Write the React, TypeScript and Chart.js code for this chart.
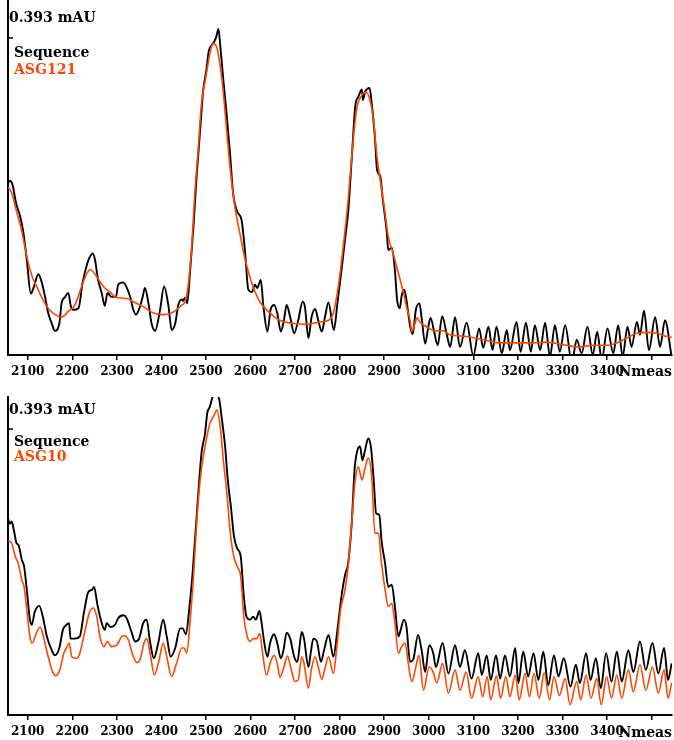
import React, { useEffect, useRef } from 'react';
import { Chart, registerables } from 'chart.js';

Chart.register(...registerables);

// ---- axes (Nmeas on x, signal in µAU on y; tick 393 µAU = 0.393 mAU) ----
const X_MIN = 2055.8;
const X_MAX = 3545.8;
const X_TICKS = [2100, 2200, 2300, 2400, 2500, 2600, 2700, 2800, 2900, 3000, 3100, 3200, 3300, 3400, 3500];
const X_TITLE = 'Nmeas';
const Y_TICK = 393;
const TOP_Y_MAX = 440;
const BOTTOM_Y_MAX = 437;

const SEQ_NAME = 'Sequence';
const TOP_NAME = 'ASG121';
const BOTTOM_NAME = 'ASG10';

const BLACK = '#000000';
const ORANGE = '#ff4500';
const FONT = "'DejaVu Serif', serif";

// ---- top panel ----
const TOP_SEQUENCE: [number, number][] = [
  [2056,213],[2060,216],[2066,211],[2074,188],[2083,172],[2090,153],[2098,118],[2107,76],[2113,83],[2124,100],
  [2131,91],[2139,72],[2146,52],[2154,39],[2161,30],[2171,39],[2176,64],[2184,72],[2191,77],[2197,60],
  [2202,56],[2214,58],[2223,89],[2234,114],[2240,122],[2246,126],[2251,118],[2258,93],[2266,77],[2273,61],
  [2279,77],[2288,72],[2298,72],[2303,87],[2314,90],[2321,85],[2330,72],[2337,56],[2343,50],[2350,57],
  [2358,72],[2363,83],[2371,64],[2378,39],[2386,30],[2397,56],[2406,85],[2416,60],[2423,31],[2431,39],
  [2438,62],[2446,69],[2449,67],[2453,71],[2458,64],[2464,101],[2472,159],[2479,221],[2487,279],[2494,329],
  [2501,353],[2506,376],[2513,384],[2518,388],[2523,394],[2528,404],[2532,384],[2539,341],[2547,295],[2554,250],
  [2561,200],[2570,178],[2580,167],[2588,126],[2595,81],[2603,78],[2610,87],[2615,83],[2623,93],[2629,60],
  [2638,29],[2645,56],[2653,62],[2660,52],[2668,29],[2675,43],[2681,62],[2689,47],[2698,27],[2707,43],
  [2717,66],[2722,60],[2730,21],[2737,47],[2745,57],[2752,43],[2760,29],[2767,47],[2775,65],[2787,31],
  [2795,64],[2805,109],[2812,143],[2819,176],[2827,242],[2835,308],[2842,320],[2850,329],[2852,316],[2857,326],
  [2867,331],[2872,312],[2879,271],[2884,229],[2891,222],[2897,192],[2906,151],[2909,130],[2917,133],[2924,105],
  [2929,68],[2935,58],[2939,73],[2945,81],[2950,68],[2958,36],[2964,26],[2971,56],[2979,64],[2984,46],
  [2992,14],[2999,35],[3004,46],[3012,29],[3020,12],[3030,48],[3041,24],[3048,10],[3059,47],[3070,10],
  [3085,40],[3100,-1],[3113,33],[3122,9],[3134,35],[3143,6],[3152,35],[3164,2],[3175,31],[3182,6],
  [3197,41],[3206,4],[3218,40],[3229,4],[3238,37],[3250,6],[3261,40],[3272,-2],[3283,37],[3294,4],
  [3306,37],[3321,-9],[3332,19],[3343,2],[3356,35],[3368,0],[3378,29],[3388,-6],[3401,33],[3414,2],
  [3425,37],[3435,-2],[3446,35],[3455,10],[3467,41],[3474,25],[3483,55],[3494,6],[3508,47],[3519,10],
  [3530,43],[3545,-2],
];

const TOP_SAMPLE: [number, number][] = [
  [2056,208],[2064,201],[2075,178],[2087,153],[2098,122],[2109,99],[2120,85],[2131,72],[2143,60],[2157,52],
  [2176,47],[2191,54],[2206,62],[2221,85],[2231,99],[2240,106],[2251,100],[2262,91],[2273,83],[2285,78],
  [2296,72],[2322,70],[2337,66],[2359,60],[2382,52],[2404,50],[2423,52],[2438,58],[2446,62],[2453,66],
  [2460,85],[2468,134],[2475,200],[2483,258],[2490,312],[2500,345],[2509,374],[2516,386],[2524,382],[2531,362],
  [2539,325],[2547,275],[2554,233],[2565,184],[2576,151],[2588,118],[2603,89],[2621,66],[2644,52],[2666,43],
  [2696,39],[2726,38],[2756,41],[2775,43],[2786,52],[2797,85],[2808,134],[2819,192],[2829,258],[2838,304],
  [2850,322],[2859,326],[2868,316],[2876,291],[2883,250],[2891,217],[2900,184],[2909,147],[2920,126],[2932,101],
  [2943,78],[2951,58],[2958,43],[2962,29],[2969,39],[2974,46],[2980,41],[2995,35],[3014,30],[3032,30],
  [3048,25],[3085,23],[3122,19],[3160,15],[3197,15],[3235,15],[3257,16],[3279,15],[3310,12],[3339,10],
  [3369,12],[3399,12],[3422,15],[3444,21],[3467,27],[3489,28],[3511,27],[3534,23],[3545,22],
];

// ---- bottom panel ----
const BOTTOM_SEQUENCE: [number, number][] = [
  [2056,270],[2060,263],[2064,266],[2069,254],[2075,236],[2079,234],[2087,213],[2092,204],[2098,172],[2105,131],
  [2109,124],[2116,142],[2126,150],[2134,135],[2143,108],[2154,89],[2161,82],[2171,92],[2179,117],[2187,124],
  [2193,126],[2196,105],[2206,105],[2217,108],[2226,140],[2236,169],[2244,172],[2249,176],[2256,153],[2264,131],
  [2273,117],[2277,126],[2286,121],[2296,124],[2303,133],[2315,137],[2322,133],[2333,114],[2341,101],[2350,105],
  [2359,126],[2367,131],[2374,103],[2383,78],[2393,99],[2404,131],[2412,108],[2421,80],[2431,92],[2442,119],
  [2448,119],[2455,111],[2463,149],[2470,195],[2478,263],[2485,323],[2490,360],[2498,387],[2503,415],[2509,424],
  [2515,437],[2524,440],[2530,433],[2535,410],[2543,369],[2549,323],[2556,286],[2563,245],[2570,229],[2578,218],
  [2585,163],[2591,135],[2599,131],[2606,135],[2612,131],[2620,143],[2625,126],[2630,103],[2638,80],[2644,99],
  [2653,111],[2660,99],[2668,78],[2674,89],[2681,113],[2689,105],[2698,80],[2705,73],[2715,114],[2720,105],
  [2730,66],[2735,85],[2741,105],[2749,101],[2758,73],[2765,89],[2775,110],[2786,80],[2795,117],[2805,167],
  [2812,192],[2819,208],[2827,263],[2834,341],[2840,364],[2846,369],[2851,350],[2857,364],[2864,380],[2870,369],
  [2876,327],[2882,277],[2889,275],[2894,240],[2902,208],[2909,176],[2917,179],[2924,149],[2932,108],[2937,117],
  [2944,131],[2950,121],[2958,73],[2965,76],[2976,110],[2984,89],[2992,59],[3001,96],[3010,85],[3016,66],
  [3031,99],[3044,57],[3059,96],[3070,66],[3081,89],[3096,50],[3111,85],[3119,55],[3130,82],[3139,48],
  [3151,82],[3160,50],[3171,82],[3182,53],[3194,92],[3201,44],[3212,87],[3223,53],[3235,85],[3246,48],
  [3257,87],[3268,41],[3281,82],[3291,53],[3303,78],[3318,39],[3330,69],[3339,44],[3353,85],[3363,48],
  [3375,78],[3386,37],[3398,85],[3410,46],[3422,87],[3433,46],[3448,89],[3459,59],[3474,101],[3487,62],
  [3502,99],[3515,57],[3528,92],[3537,48],[3545,71],
];

const BOTTOM_SAMPLE: [number, number][] = [
  [2056,240],[2064,236],[2072,218],[2079,208],[2087,185],[2092,176],[2098,144],[2105,108],[2110,99],[2119,112],
  [2128,121],[2135,108],[2146,80],[2156,59],[2163,54],[2172,62],[2181,85],[2187,92],[2193,99],[2199,80],
  [2210,78],[2217,85],[2229,117],[2238,140],[2247,147],[2255,135],[2262,108],[2271,94],[2279,101],[2288,94],
  [2300,96],[2311,108],[2318,109],[2326,103],[2336,82],[2345,72],[2352,76],[2361,99],[2367,105],[2376,80],
  [2384,55],[2395,76],[2404,99],[2412,80],[2423,53],[2434,71],[2446,92],[2451,92],[2457,85],[2464,126],
  [2472,190],[2479,263],[2487,323],[2494,355],[2502,382],[2509,401],[2517,410],[2525,419],[2532,396],[2539,350],
  [2547,305],[2554,254],[2561,222],[2570,204],[2578,190],[2585,135],[2591,112],[2599,101],[2606,105],[2614,105],
  [2621,112],[2627,85],[2636,55],[2645,73],[2653,82],[2660,71],[2666,52],[2675,66],[2683,81],[2690,66],
  [2700,46],[2707,48],[2715,80],[2720,71],[2730,37],[2737,64],[2745,80],[2752,66],[2760,49],[2767,64],
  [2775,80],[2786,57],[2793,89],[2802,144],[2812,172],[2819,204],[2827,263],[2834,318],[2842,341],[2850,323],
  [2857,339],[2864,353],[2872,327],[2879,250],[2887,250],[2894,208],[2902,172],[2909,149],[2917,153],[2924,126],
  [2932,85],[2939,94],[2947,99],[2954,71],[2962,46],[2971,66],[2978,82],[2988,34],[3001,66],[3010,59],
  [3018,44],[3031,71],[3044,30],[3059,62],[3070,34],[3084,59],[3096,23],[3111,53],[3121,25],[3131,53],
  [3139,21],[3152,54],[3161,23],[3173,53],[3182,25],[3194,55],[3203,21],[3216,57],[3226,25],[3236,57],
  [3248,23],[3259,58],[3271,21],[3281,53],[3293,27],[3306,50],[3317,14],[3332,46],[3341,21],[3353,55],
  [3364,23],[3377,50],[3387,14],[3399,53],[3410,23],[3422,55],[3433,23],[3448,62],[3459,32],[3474,69],
  [3487,34],[3502,66],[3515,30],[3528,62],[3537,23],[3545,44],
];

const toPoints = (arr: [number, number][]) => arr.map(([x, y]) => ({ x, y }));

const panelText = {
  id: 'panelText',
  afterDraw(chart: any, _args: any, opts: any) {
    const { ctx, chartArea, scales } = chart;
    const yPix = scales.y.getPixelForValue(Y_TICK);
    ctx.save();
    // inward tick on the y axis
    ctx.strokeStyle = BLACK;
    ctx.lineWidth = 1.5;
    ctx.beginPath();
    ctx.moveTo(chartArea.left, yPix);
    ctx.lineTo(chartArea.left + 5, yPix);
    ctx.stroke();
    // legend text
    ctx.font = `bold 14px ${FONT}`;
    ctx.textAlign = 'left';
    ctx.textBaseline = 'middle';
    const ds = chart.data.datasets;
    const seq = ds.find((d: any) => d.label === SEQ_NAME);
    const other = ds.find((d: any) => d.label !== SEQ_NAME);
    ctx.fillStyle = seq.borderColor;
    ctx.fillText(seq.label, chartArea.left + 6, opts.seqY);
    ctx.fillStyle = other.borderColor;
    ctx.fillText(other.label, chartArea.left + 6, opts.nameY);
    // x axis title at the right end
    ctx.font = `bold 14px ${FONT}`;
    ctx.fillStyle = BLACK;
    ctx.textAlign = 'right';
    ctx.fillText(X_TITLE, chartArea.right, chartArea.bottom + opts.titleDy);
    ctx.restore();
  },
};

type PanelProps = {
  top: number;
  height: number;
  padTop: number;
  axisHeight: number;
  yMax: number;
  seq: [number, number][];
  sample: [number, number][];
  sampleName: string;
  labelOffset: number;
  seqY: number;
  nameY: number;
  titleDy: number;
};

function Panel(p: PanelProps) {
  const ref = useRef<HTMLCanvasElement | null>(null);
  useEffect(() => {
    if (!ref.current) return;
    const chart = new Chart(ref.current, {
      type: 'line',
      data: {
        datasets: [
          {
            label: p.sampleName,
            data: toPoints(p.sample),
            borderColor: ORANGE,
            borderWidth: 1.6,
            pointRadius: 0,
            cubicInterpolationMode: 'monotone',
            order: 0,
          },
          {
            label: SEQ_NAME,
            data: toPoints(p.seq),
            borderColor: BLACK,
            borderWidth: 1.9,
            pointRadius: 0,
            cubicInterpolationMode: 'monotone',
            order: 1,
          },
        ],
      },
      plugins: [panelText],
      options: {
        animation: false,
        responsive: true,
        maintainAspectRatio: false,
        events: [],
        layout: { padding: { left: 8, right: 2, top: p.padTop, bottom: 0 } },
        plugins: {
          legend: { display: false },
          tooltip: { enabled: false },
          // @ts-ignore
          panelText: { seqY: p.seqY, nameY: p.nameY, titleDy: p.titleDy },
        },
        scales: {
          x: {
            type: 'linear',
            min: X_MIN,
            max: X_MAX,
            afterBuildTicks: (s: any) => {
              s.ticks = X_TICKS.map((v) => ({ value: v }));
            },
            afterFit: (s: any) => {
              s.height = p.axisHeight;
              s.paddingLeft = 0;
              s.paddingRight = 0;
            },
            border: { display: true, color: BLACK, width: 2 },
            grid: { display: true, drawOnChartArea: false, drawTicks: true, tickLength: 5, color: BLACK, lineWidth: 1.5 },
            ticks: {
              autoSkip: false,
              maxRotation: 0,
              padding: 5,
              color: BLACK,
              font: { family: FONT, weight: 'bold', size: 12 },
              callback: (v: any) => (v === X_TICKS[X_TICKS.length - 1] ? '' : String(v)),
            },
          },
          y: {
            type: 'linear',
            min: 0,
            max: p.yMax,
            afterBuildTicks: (s: any) => {
              s.ticks = [{ value: Y_TICK }];
            },
            afterFit: (s: any) => {
              s.width = 0;
              s.paddingTop = 0;
              s.paddingBottom = 0;
            },
            border: { display: true, color: BLACK, width: 2 },
            grid: { display: true, drawOnChartArea: false, drawTicks: false },
            ticks: {
              mirror: true,
              padding: 1,
              labelOffset: p.labelOffset,
              color: BLACK,
              font: { family: FONT, weight: 'bold', size: 14 },
              callback: (v: any) => `${(Number(v) / 1000).toFixed(3)} mAU`,
            },
          },
        },
      } as any,
    });
    return () => chart.destroy();
  }, []);
  return (
    <div style={{ position: 'absolute', left: 0, top: p.top, width: 674, height: p.height }}>
      <canvas ref={ref} />
    </div>
  );
}

export default function App() {
  return (
    <div style={{ position: 'absolute', left: 0, top: 0, width: 674, height: 740, background: '#fff' }}>
      <Panel
        top={0}
        height={390}
        padTop={0}
        axisHeight={35}
        yMax={TOP_Y_MAX}
        seq={TOP_SEQUENCE}
        sample={TOP_SAMPLE}
        sampleName={TOP_NAME}
        labelOffset={-20}
        seqY={53}
        nameY={70.5}
        titleDy={17}
      />
      <Panel
        top={390}
        height={350}
        padTop={7}
        axisHeight={25}
        yMax={BOTTOM_Y_MAX}
        seq={BOTTOM_SEQUENCE}
        sample={BOTTOM_SAMPLE}
        sampleName={BOTTOM_NAME}
        labelOffset={-19}
        seqY={52}
        nameY={67.5}
        titleDy={18}
      />
    </div>
  );
}
